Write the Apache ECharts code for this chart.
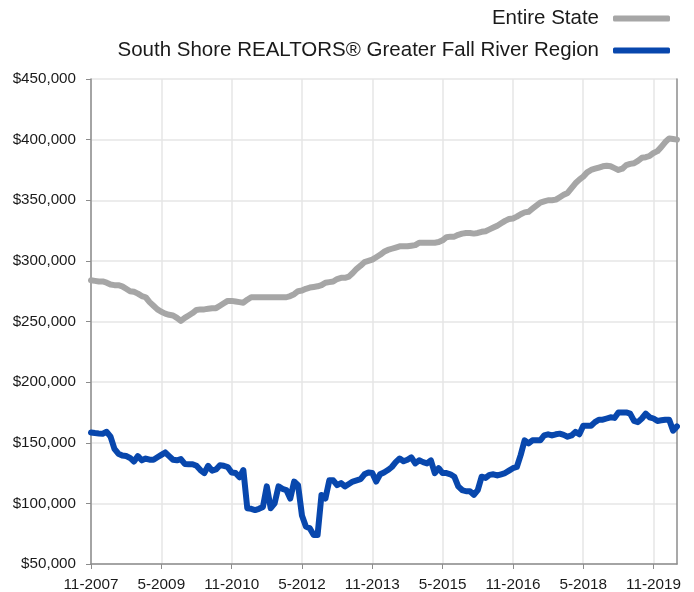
<!DOCTYPE html>
<html><head><meta charset="utf-8">
<script src="https://cdn.jsdelivr.net/npm/echarts@6/dist/echarts.min.js"></script>
<style>html,body{margin:0;padding:0;background:#fff}#c{width:694px;height:592px}</style>
</head><body><div id="c"></div>
<script>
// Months from 11-2007 to 5-2020 (151 monthly categories)
const startYear = 2007, startMonth = 11, monthCount = 151;
const months = [];
for (let k = 0; k < monthCount; k++) {
  const m = (startMonth - 1 + k) % 12 + 1;
  const y = startYear + Math.floor((startMonth - 1 + k) / 12);
  months.push(m + '-' + y);
}
const seriesNames = ['Entire State', 'South Shore REALTORS® Greater Fall River Region'];
// values in thousands of dollars
const entireState = [
  284,283.5,283,283,282,280.5,280,280,279,277,275,274.5,273,271,270,266,263,260,258,256.5,
  255.5,255,253,250.5,253,255,257,259.5,260,260,260.5,261,261,263,265,267,267,266.5,266,265.5,
  268,270,270,270,270,270,270,270,270,270,270,271,272.5,275,275.5,277,278,278.5,279,280,
  282,282.5,283,285,286,286,287,290,293.5,296,299,300,301,303,305,307.5,309,310,311,312,
  312,312,312.5,313,315,315,315,315,315,315.5,317,319.5,320,320,321.5,322.5,323,323,322.5,323,
  324,324.5,326,327.5,329,331,333,334.5,335,336.5,338.5,340,340.5,343,345.5,348,349,350,350,350.5,
  352.5,354.5,356,360,364,367,369.5,373,375,376,377,378,378.5,378,376.5,375,376,379,380,380.5,
  382.5,385,385.5,386.5,389,390.5,394,398,401,400.5,400
];
const fallRiver = [
  158.5,158,157.7,157.5,159,155,145,141,139.5,139,137.5,134.5,139,135.5,137,136,136,138,140,142,
  139,136,135.5,136.5,132.5,132.3,132.3,131,127.5,125,131,127,128,131.5,131,130,125.5,125,121.5,127.5,
  96,95.5,94.5,95.5,97,114,96,100,114,112,111,104,118,115,90,81,79.5,74,74,107,
  104,119,119,115,116.7,114,116,118,119,120,124,125.5,125,118,124,125.5,127.5,130,134,137,
  134.7,136,138,133,135.5,134,133,135.5,125,129,125,125,124,122,114,111,110,110,107,111,
  122,121,123.5,124,123,124,125,127,129,130,140,152,149.5,152,152,152,156,157,156,157,
  157.5,156.5,155,156,159,157,164,164,164,167,169,169,170,171,170.5,175,175,175,174,168,
  167,170,174,171,170,168,168.5,169,169,160,163.5
];
const yMin = 50000, yMax = 450000, yStep = 50000;

const font = '"Liberation Sans", Arial, sans-serif';
const chart = echarts.init(document.getElementById('c'));
chart.setOption({
  animation: false,
  backgroundColor: '#fff',
  legend: {
    orient: 'vertical', right: 24, top: 8, align: 'right', padding: 0,
    itemWidth: 57, itemHeight: 6, itemGap: 11, icon: 'roundRect',
    textStyle: { fontFamily: font, fontSize: 20.5, color: '#1a1a1a', padding: [7, 9, 0, 0] },
    data: seriesNames
  },
  grid: { left: 91, right: 17, top: 79, bottom: 26 },
  xAxis: {
    type: 'category', data: months, boundaryGap: false,
    axisLine: { lineStyle: { color: '#8c8c8c', width: 1.5 } },
    axisTick: { interval: 17, length: 5, lineStyle: { color: '#8c8c8c' } },
    axisLabel: { interval: 17, color: '#1a1a1a', fontFamily: font, fontSize: 15.3, margin: 13 },
    splitLine: { show: true, interval: 17, lineStyle: { color: '#e6e6e6', width: 1.5 } }
  },
  yAxis: [{
    type: 'value', min: yMin, max: yMax, interval: yStep,
    axisLine: { show: true, lineStyle: { color: '#8c8c8c', width: 1.5 } },
    axisTick: { show: true, length: 5, lineStyle: { color: '#8c8c8c' } },
    axisLabel: { color: '#1a1a1a', fontFamily: font, fontSize: 15.2, margin: 15, padding: [3, 0, 0, 0],
      formatter: v => '$' + v.toLocaleString('en-US') },
    splitLine: { lineStyle: { color: '#e6e6e6', width: 1.5 } }
  }, {
    type: 'value', position: 'right', min: yMin, max: yMax, interval: yStep,
    axisLine: { show: true, lineStyle: { color: '#8c8c8c', width: 1.5 } },
    axisTick: { show: false }, axisLabel: { show: false }, splitLine: { show: false }
  }],
  series: [{
    name: seriesNames[0], type: 'line', data: entireState.map(v => v * 1000),
    showSymbol: false, symbol: 'none', color: '#a6a6a6',
    lineStyle: { width: 6, color: '#a6a6a6', cap: 'round', join: 'round' }
  }, {
    name: seriesNames[1], type: 'line', data: fallRiver.map(v => v * 1000),
    showSymbol: false, symbol: 'none', color: '#0847ad',
    lineStyle: { width: 6, color: '#0847ad', cap: 'round', join: 'round' }
  }]
});
</script></body></html>
